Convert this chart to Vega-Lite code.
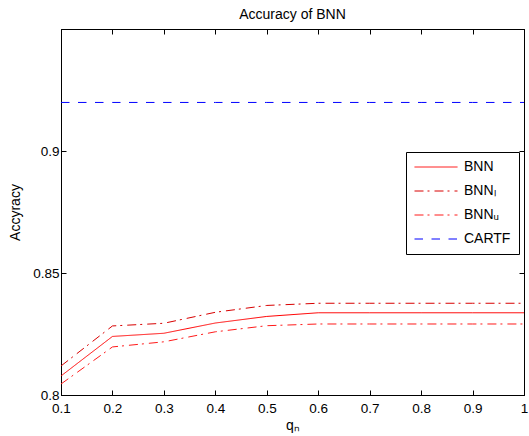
{
  "$schema": "https://vega.github.io/schema/vega-lite/v6.json",
  "width": 463,
  "height": 366,
  "autosize": {"type": "none"},
  "padding": {"left": 61, "top": 29, "right": 5, "bottom": 41},
  "background": "white",
  "title": {"text": "Accuracy of BNN", "fontSize": 14, "fontWeight": "normal", "font": "Liberation Sans", "color": "black", "offset": 7},
  "data": {
    "values": [
      {"q": 0.1, "value": 0.8078, "series": "BNN"},
      {"q": 0.2, "value": 0.8240, "series": "BNN"},
      {"q": 0.3, "value": 0.8253, "series": "BNN"},
      {"q": 0.4, "value": 0.8295, "series": "BNN"},
      {"q": 0.5, "value": 0.8322, "series": "BNN"},
      {"q": 0.6, "value": 0.8337, "series": "BNN"},
      {"q": 0.7, "value": 0.8337, "series": "BNN"},
      {"q": 0.8, "value": 0.8337, "series": "BNN"},
      {"q": 0.9, "value": 0.8337, "series": "BNN"},
      {"q": 1.0, "value": 0.8337, "series": "BNN"},
      {"q": 0.1, "value": 0.8119, "series": "BNN_l"},
      {"q": 0.2, "value": 0.8283, "series": "BNN_l"},
      {"q": 0.3, "value": 0.8294, "series": "BNN_l"},
      {"q": 0.4, "value": 0.8339, "series": "BNN_l"},
      {"q": 0.5, "value": 0.8367, "series": "BNN_l"},
      {"q": 0.6, "value": 0.8376, "series": "BNN_l"},
      {"q": 0.7, "value": 0.8376, "series": "BNN_l"},
      {"q": 0.8, "value": 0.8376, "series": "BNN_l"},
      {"q": 0.9, "value": 0.8376, "series": "BNN_l"},
      {"q": 1.0, "value": 0.8376, "series": "BNN_l"},
      {"q": 0.1, "value": 0.8045, "series": "BNN_u"},
      {"q": 0.2, "value": 0.8197, "series": "BNN_u"},
      {"q": 0.3, "value": 0.8218, "series": "BNN_u"},
      {"q": 0.4, "value": 0.8259, "series": "BNN_u"},
      {"q": 0.5, "value": 0.8284, "series": "BNN_u"},
      {"q": 0.6, "value": 0.8291, "series": "BNN_u"},
      {"q": 0.7, "value": 0.8291, "series": "BNN_u"},
      {"q": 0.8, "value": 0.8291, "series": "BNN_u"},
      {"q": 0.9, "value": 0.8291, "series": "BNN_u"},
      {"q": 1.0, "value": 0.8291, "series": "BNN_u"},
      {"q": 0.1, "value": 0.9199, "series": "CARTF"},
      {"q": 0.2, "value": 0.9199, "series": "CARTF"},
      {"q": 0.3, "value": 0.9199, "series": "CARTF"},
      {"q": 0.4, "value": 0.9199, "series": "CARTF"},
      {"q": 0.5, "value": 0.9199, "series": "CARTF"},
      {"q": 0.6, "value": 0.9199, "series": "CARTF"},
      {"q": 0.7, "value": 0.9199, "series": "CARTF"},
      {"q": 0.8, "value": 0.9199, "series": "CARTF"},
      {"q": 0.9, "value": 0.9199, "series": "CARTF"},
      {"q": 1.0, "value": 0.9199, "series": "CARTF"}
    ]
  },
  "layer": [
    {
      "mark": {"type": "line", "strokeWidth": 1, "clip": true},
      "encoding": {
        "x": {
          "field": "q", "type": "quantitative",
          "scale": {"domain": [0.1, 1], "nice": false, "zero": false},
          "axis": {"orient": "bottom", "values": [0.1, 0.2, 0.3, 0.4, 0.5, 0.6, 0.7, 0.8, 0.9, 1], "format": "~g", "title": "qₙ", "tickSize": -5, "labelPadding": 11, "titlePadding": 4}
        },
        "y": {
          "field": "value", "type": "quantitative",
          "scale": {"domain": [0.8, 0.95], "nice": false, "zero": false},
          "axis": {"orient": "left", "values": [0.8, 0.85, 0.9], "format": "~g", "title": "Accyracy", "tickSize": -5, "labelPadding": 7, "titlePadding": 10}
        },
        "color": {
          "field": "series", "type": "nominal",
          "scale": {"domain": ["BNN", "BNN_l", "BNN_u", "CARTF"], "range": ["#ff0000", "#d80000", "#ff1a1a", "#0000ff"]},
          "legend": {"labelExpr": "datum.label == 'BNN_l' ? 'BNNₗ' : datum.label == 'BNN_u' ? 'BNNᵤ' : datum.label"}
        },
        "strokeDash": {
          "field": "series", "type": "nominal",
          "scale": {"domain": ["BNN", "BNN_l", "BNN_u", "CARTF"], "range": [[1, 0], [9, 4, 2, 5], [9, 4, 2, 5], [8.5, 8.5]]},
          "legend": {"labelExpr": "datum.label == 'BNN_l' ? 'BNNₗ' : datum.label == 'BNN_u' ? 'BNNᵤ' : datum.label"}
        }
      }
    },
    {
      "mark": {"type": "line", "strokeOpacity": 0},
      "encoding": {
        "x": {
          "field": "q", "type": "quantitative",
          "axis": {"orient": "top", "values": [0.1, 0.2, 0.3, 0.4, 0.5, 0.6, 0.7, 0.8, 0.9, 1], "labels": false, "title": null, "tickSize": -5}
        },
        "y": {
          "field": "value", "type": "quantitative",
          "axis": {"orient": "right", "values": [0.8, 0.85, 0.9], "labels": false, "title": null, "tickSize": -5}
        },
        "detail": {"field": "series"}
      }
    }
  ],
  "resolve": {"axis": {"x": "independent", "y": "independent"}},
  "config": {
    "view": {"stroke": "black", "strokeWidth": 1},
    "axis": {
      "grid": false,
      "domainColor": "black",
      "tickColor": "black",
      "labelColor": "black",
      "titleColor": "black",
      "labelFont": "Liberation Sans",
      "titleFont": "Liberation Sans",
      "labelFontSize": 13.5,
      "titleFontSize": 14,
      "titleFontWeight": "normal",
      "labelFlush": false,
      "labelOverlap": false
    },
    "legend": {
      "orient": "none",
      "legendX": 345,
      "legendY": 123,
      "title": null,
      "strokeColor": "black",
      "fillColor": "white",
      "padding": 8,
      "symbolType": "stroke",
      "symbolSize": 1849,
      "symbolStrokeWidth": 1,
      "clipHeight": 14,
      "labelFont": "Liberation Sans",
      "labelFontSize": 14,
      "labelColor": "black",
      "labelOffset": 6,
      "rowPadding": 10,
      "cornerRadius": 0
    }
  }
}
